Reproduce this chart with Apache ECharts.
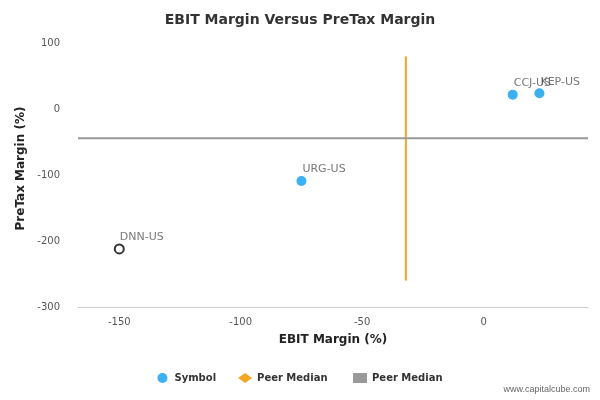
<!DOCTYPE html><html><head><meta charset="utf-8"><script src="https://cdn.jsdelivr.net/npm/echarts@6/dist/echarts.min.js"></script></head><body style="margin:0"><div id="c" style="width:600px;height:400px"></div><script>
const names=['CCJ-US','KEP-US','URG-US'];
const xs=[12,23,-75];
const ys=[22,24,-109];
const dnn={name:'DNN-US',x:-150,y:-212};
const medianX=-32, medianY=-44;
const c=echarts.init(document.getElementById('c'));
const lbl={show:true,position:[6,-12],formatter:p=>p.data[2],color:'#555',fontSize:11,fontFamily:'DejaVu Sans'};
c.setOption({
textStyle:{fontFamily:'DejaVu Sans'},
title:{text:'EBIT Margin Versus PreTax Margin',left:'center',top:8,textStyle:{fontSize:14,fontWeight:'bold',color:'#333',fontFamily:'DejaVu Sans'}},
grid:{left:78,right:12,top:30,bottom:93},
xAxis:{type:'value',min:-167,max:43,interval:50,name:'EBIT Margin (%)',nameLocation:'middle',nameGap:27,nameTextStyle:{fontWeight:'bold',fontSize:12,color:'#222'},
axisLabel:{customValues:[-150,-100,-50,0],fontSize:10,color:'#555',margin:10},axisTick:{show:false},axisLine:{onZero:false,lineStyle:{color:'#ccc'}},splitLine:{show:false}},
yAxis:{type:'value',min:-300,max:120,interval:100,name:'PreTax Margin (%)',nameLocation:'middle',nameGap:50,nameTextStyle:{fontWeight:'bold',fontSize:12,color:'#222'},
axisLabel:{customValues:[-300,-200,-100,0,100],fontSize:10,color:'#555',margin:18},axisLine:{show:false},axisTick:{show:false},splitLine:{show:false}},
legend:{bottom:12,left:'center',itemWidth:14,itemHeight:10,itemGap:22,textStyle:{fontSize:10,fontWeight:'bold',color:'#333'},
data:[{name:'Symbol',icon:'circle'},{name:'Peer Median ',icon:'diamond'},{name:'Peer Median',icon:'rect'}]},
graphic:[{type:'text',right:10,bottom:6,style:{text:'www.capitalcube.com',fontSize:9,fill:'#666'}}],
series:[
{name:'Symbol',type:'scatter',symbolSize:10,itemStyle:{color:'#0a9cf0'},label:lbl,data:names.map((n,i)=>[xs[i],ys[i],n]),z:5},
{name:'Symbol',type:'scatter',symbolSize:9,itemStyle:{color:'#fff',borderColor:'#000',borderWidth:2},label:lbl,data:[[dnn.x,dnn.y,dnn.name]],z:5},
{name:'Peer Median ',type:'line',symbol:'none',lineStyle:{color:'#f5a623',width:2},itemStyle:{color:'#f5a623'},data:[[medianX,80],[medianX,-260]]},
{name:'Peer Median',type:'line',symbol:'none',lineStyle:{color:'#999',width:2},itemStyle:{color:'#999'},data:[[-167,medianY],[43,medianY]]}
]});
</script></body></html>
